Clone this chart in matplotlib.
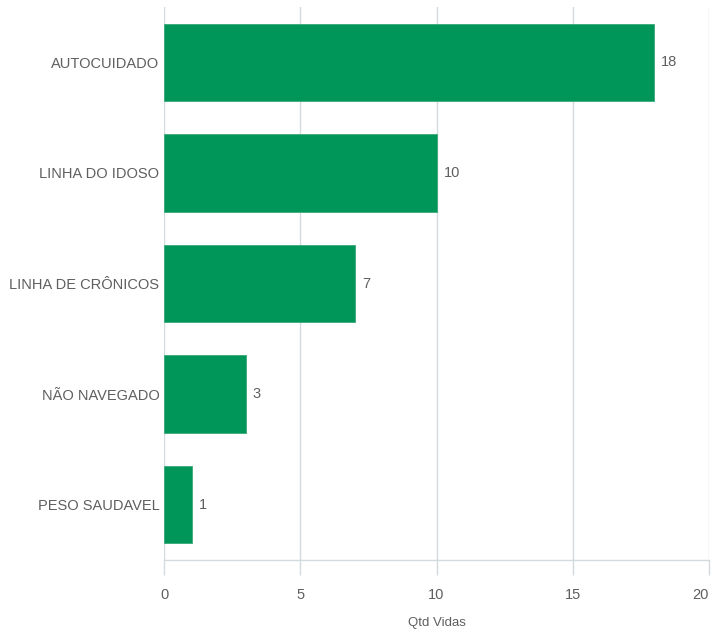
import matplotlib
matplotlib.use("Agg")
import matplotlib.pyplot as plt

# dados do gráfico
categorias = ["AUTOCUIDADO", "LINHA DO IDOSO", "LINHA DE CRÔNICOS", "NÃO NAVEGADO", "PESO SAUDAVEL"]
qtd_vidas = [18, 10, 7, 3, 1]
xticks = [0, 5, 10, 15, 20]

plt.rcParams['font.family'] = ['Liberation Sans', 'DejaVu Sans']

fig = plt.figure(figsize=(7.17, 6.32), dpi=100)
ax = fig.add_axes([0.2292, 0.1139, 0.7592, 0.875])

cor_barra = '#00965a'
cor_grade = '#d3dbdf'
cor_texto = '#5f5f5f'

y = list(range(len(categorias)))
ax.barh(y, qtd_vidas, height=0.7, color=cor_barra, edgecolor='#3aa877', linewidth=0.6, zorder=3)

for yi, v in zip(y, qtd_vidas):
    ax.annotate(str(v), xy=(v, yi), xytext=(5, 0), textcoords='offset points',
                va='center', ha='left', fontsize=10.5, color=cor_texto)

ax.set_xlim(0, 20)
ax.set_ylim(len(categorias) - 0.5, -0.5)
ax.set_yticks(y)
ax.set_yticklabels(categorias)
ax.set_xticks(xticks)

ax.grid(axis='x', color=cor_grade, linewidth=1, zorder=0)
for lado in ['top', 'right', 'left']:
    ax.spines[lado].set_visible(False)
ax.spines['bottom'].set_color(cor_grade)
ax.spines['bottom'].set_linewidth(1)

ax.tick_params(axis='y', length=0, pad=3.5, labelsize=10.5, labelcolor=cor_texto)
ax.tick_params(axis='x', length=11, width=1, color=cor_grade, pad=9, labelsize=10.5, labelcolor=cor_texto)

# o último rótulo (20) fica alinhado à direita para não cortar
ultimo = ax.get_xticklabels()[-1]
ultimo.set_horizontalalignment('right')
ultimo.set_x(20.05)

ax.set_xlabel("Qtd Vidas", fontsize=9.5, color=cor_texto, labelpad=11)

fig.savefig("out.png", dpi=100)
